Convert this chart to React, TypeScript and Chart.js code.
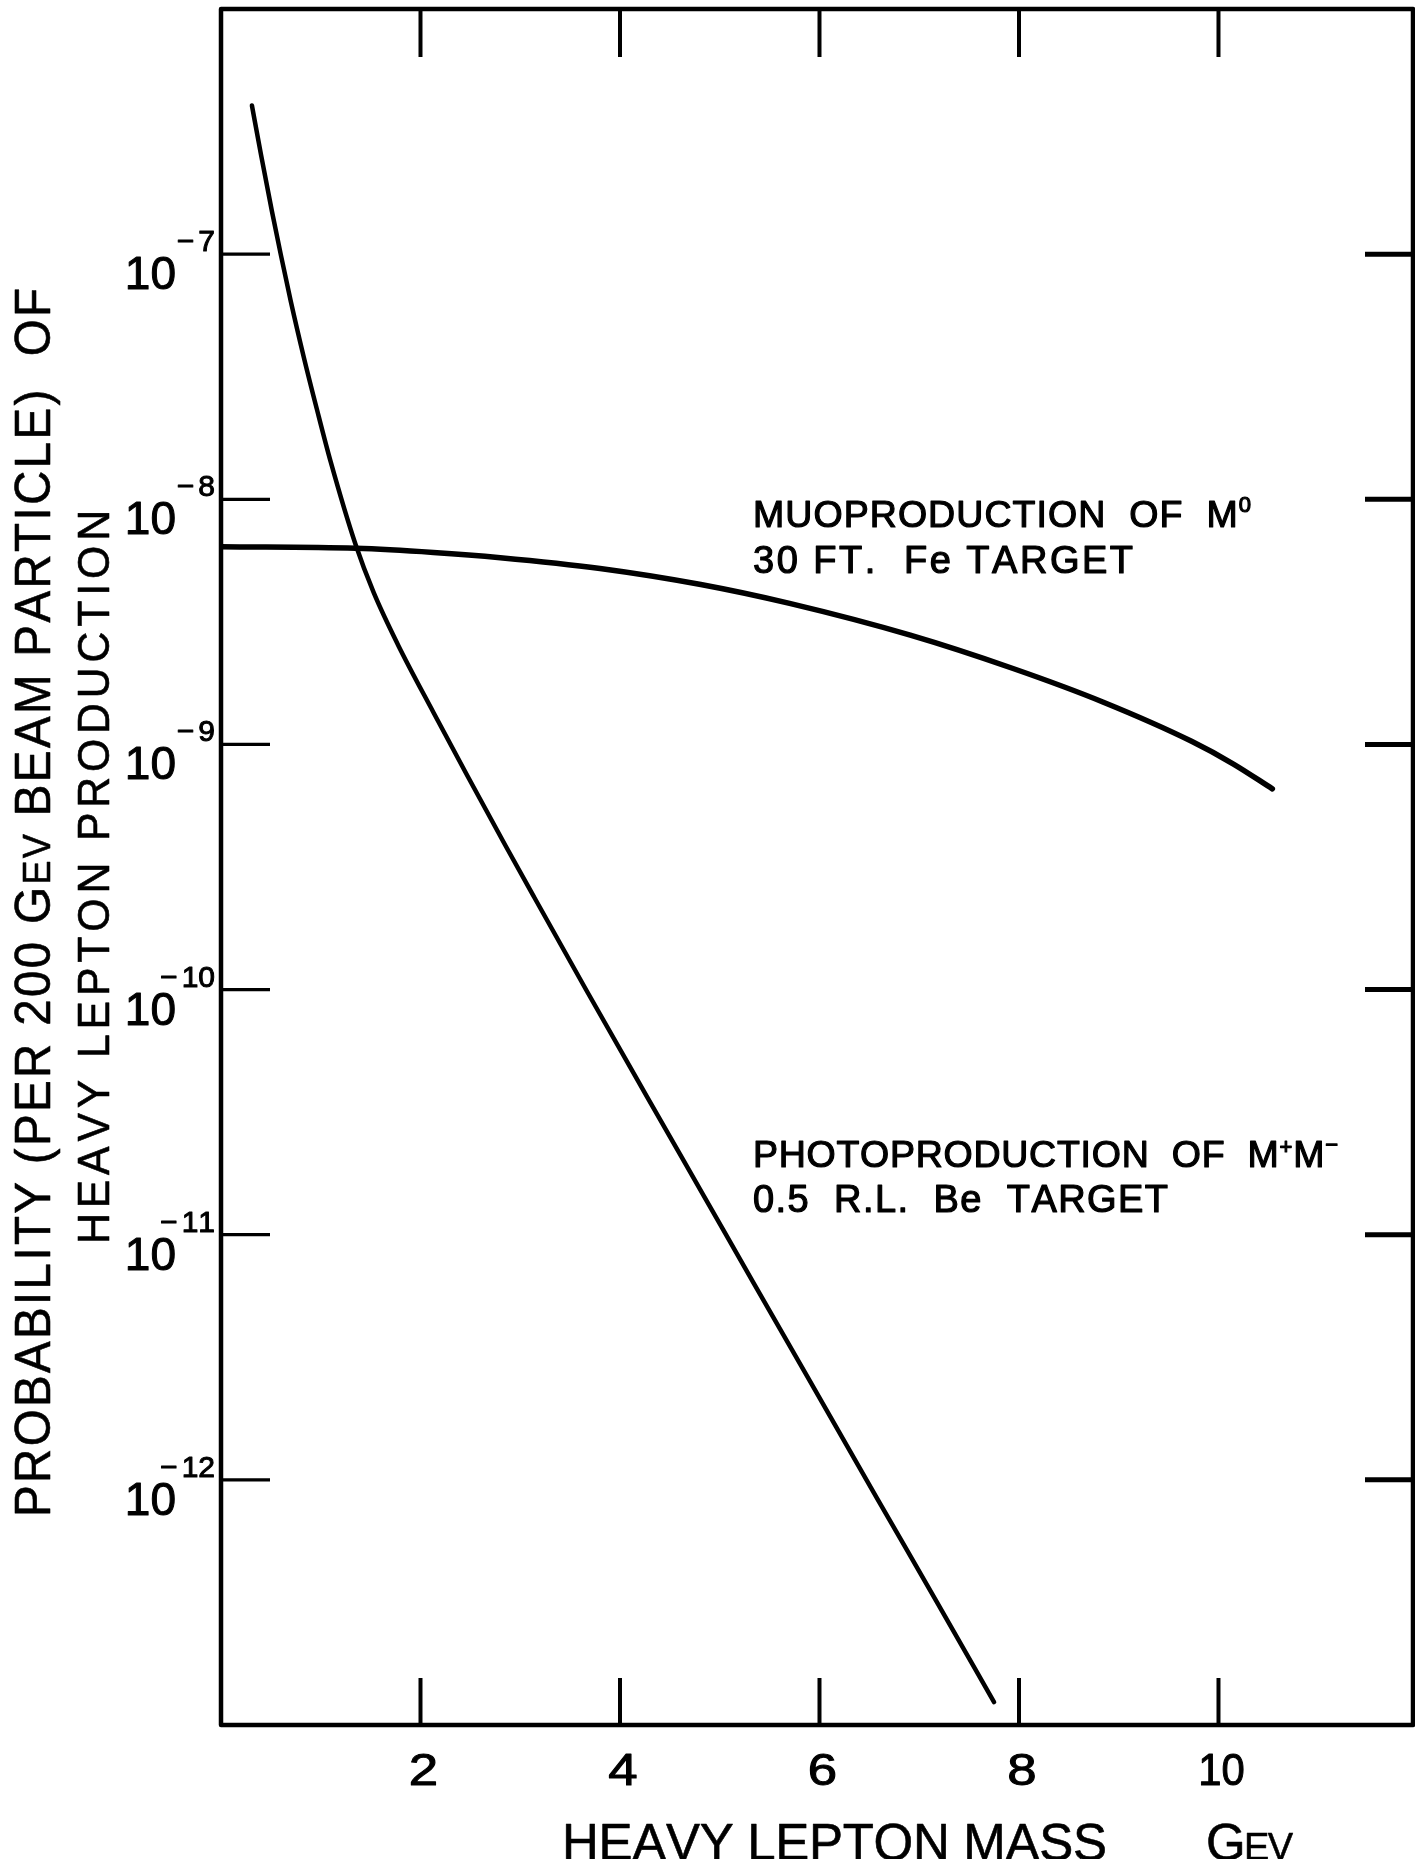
import React, { useEffect, useRef } from "react";
import { Chart, registerables } from "chart.js";

Chart.register(...registerables);

// ---- data ----
const photoMass = [0.31, 0.40, 0.51, 0.60, 0.70, 0.83, 0.96, 1.10, 1.35, 1.53, 1.77, 2.13, 2.47, 2.85, 3.14, 3.67, 4.27, 4.84, 5.34, 5.88, 6.58, 7.18, 7.75];
const photoProb = [4.04e-7, 2.56e-7, 1.50e-7, 9.93e-8, 6.41e-8, 3.80e-8, 2.34e-8, 1.42e-8, 6.52e-9, 4.17e-9, 2.57e-9, 1.35e-9, 7.45e-10, 3.88e-10, 2.38e-10, 9.82e-11, 3.66e-11, 1.44e-11, 6.35e-12, 2.63e-12, 8.37e-13, 3.16e-13, 1.24e-13];

const muoMass = [0, 1.35, 2.13, 2.80, 3.80, 4.81, 5.70, 6.91, 7.94, 8.84, 9.73, 10.15, 10.54];
const muoProb = [6.41e-9, 6.31e-9, 6.07e-9, 5.78e-9, 5.22e-9, 4.49e-9, 3.76e-9, 2.79e-9, 2.04e-9, 1.49e-9, 1.03e-9, 8.32e-10, 6.59e-10];

const xTickValues = [2, 4, 6, 8, 10];
const xTickLabels = ["2", "4", "6", "8", "10"];
const yTickExponents = [-7, -8, -9, -10, -11, -12];
const yTickExpLabels = ["−7", "−8", "−9", "−10", "−11", "−12"];

const xMin = 0;
const xMax = 11.95;
const yMin = 1e-13;
const yMax = 1e-6;

const FONT = '"Liberation Sans", Arial, sans-serif';

type Seg = { t: string; s: number; dy?: number };

function segWidth(ctx: CanvasRenderingContext2D, segs: Seg[]) {
  let w = 0;
  let n = 0;
  for (const sg of segs) {
    ctx.font = `${sg.s}px ${FONT}`;
    for (const ch of sg.t) {
      w += ctx.measureText(ch).width;
      n++;
    }
  }
  return { w, n };
}

// draws segments char by char starting at (0,0) in current transform, fitted to target width
function drawFit(ctx: CanvasRenderingContext2D, segs: Seg[], target: number, gs = 1, bold = 0) {
  const { w, n } = segWidth(ctx, segs);
  const extra = n > 1 ? (target - w * gs) / (n - 1) : 0;
  let cx = 0;
  for (const sg of segs) {
    ctx.font = `${sg.s}px ${FONT}`;
    for (const ch of sg.t) {
      const cw = ctx.measureText(ch).width;
      ctx.save();
      ctx.translate(cx, sg.dy || 0);
      ctx.scale(gs, 1);
      ctx.fillText(ch, 0, 0);
      if (bold > 0) {
        ctx.lineWidth = bold;
        ctx.strokeText(ch, 0, 0);
      }
      ctx.restore();
      cx += cw * gs + extra;
    }
  }
}

function textAt(ctx: CanvasRenderingContext2D, segs: Seg[], x: number, y: number, target: number, gs = 1, bold = 0) {
  ctx.save();
  ctx.translate(x, y);
  drawFit(ctx, segs, target, gs, bold);
  ctx.restore();
}

const decoPlugin = {
  id: "deco",
  afterDraw(chart: any) {
    const { ctx, chartArea: a, scales } = chart;
    const xs = scales.x;
    const ys = scales.y;
    ctx.save();
    ctx.strokeStyle = "#000";
    ctx.fillStyle = "#000";
    ctx.lineCap = "butt";
    ctx.lineJoin = "round";

    // frame
    ctx.lineWidth = 4.5;
    ctx.strokeRect(a.left, a.top, a.right - a.left, a.bottom - a.top);

    const line = (x1: number, y1: number, x2: number, y2: number, w: number) => {
      ctx.lineWidth = w;
      ctx.beginPath();
      ctx.moveTo(x1, y1);
      ctx.lineTo(x2, y2);
      ctx.stroke();
    };

    // x ticks (inward, top and bottom)
    for (const v of xTickValues) {
      const px = xs.getPixelForValue(v);
      line(px, a.top, px, a.top + 48, 4);
      line(px, a.bottom, px, a.bottom - 47, 4);
    }
    // y ticks (inward, left and right)
    for (const e of yTickExponents) {
      const py = ys.getPixelForValue(Math.pow(10, e));
      line(a.left, py, a.left + 49, py, 3.2);
      line(a.right - 48, py, a.right, py, 5);
    }

    // x tick labels
    ctx.textBaseline = "alphabetic";
    ctx.textAlign = "center";
    ctx.lineWidth = 1;
    xTickValues.forEach((v, i) => {
      const px = xs.getPixelForValue(v);
      const lab = xTickLabels[i];
      ctx.font = `44px ${FONT}`;
      ctx.save();
      ctx.translate(px + 3, a.bottom + 60);
      ctx.scale(lab.length > 1 ? 0.95 : 1.2, 1);
      ctx.fillText(lab, 0, 0);
      ctx.strokeText(lab, 0, 0);
      ctx.restore();
    });

    // y tick labels: 10 with superscript exponent
    yTickExponents.forEach((e, i) => {
      const py = ys.getPixelForValue(Math.pow(10, e));
      ctx.textAlign = "right";
      ctx.font = `46px ${FONT}`;
      ctx.lineWidth = 1;
      ctx.fillText("10", 176, py + 35);
      ctx.strokeText("10", 176, py + 35);
      ctx.font = `30px ${FONT}`;
      const lab = yTickExpLabels[i];
      const chars = Array.from(lab);
      let x = 215;
      for (let k = chars.length - 1; k >= 0; k--) {
        ctx.fillText(chars[k], x, py - 3);
        ctx.strokeText(chars[k], x, py - 3);
        const w = ctx.measureText(chars[k]).width;
        x -= w + (k === 1 ? 4 : 0);
      }
    });

    ctx.textAlign = "left";

    // curve annotations
    textAt(ctx, [{ t: "MUOPRODUCTION  OF  M", s: 37.5 }, { t: "0", s: 22, dy: -15 }], 753, 527, 498, 1, 1.2);
    textAt(ctx, [{ t: "30 FT.  Fe TARGET", s: 38 }], 753, 573, 380, 1, 1.2);
    textAt(
      ctx,
      [
        { t: "PHOTOPRODUCTION  OF  M", s: 37.5 },
        { t: "+", s: 22, dy: -13 },
        { t: "M", s: 37.5 },
        { t: "−", s: 22, dy: -15 },
      ],
      753,
      1167,
      585,
      1,
      1.2
    );
    textAt(ctx, [{ t: "0.5  R.L.  Be  TARGET", s: 38 }], 753, 1212, 415, 1, 1.2);

    // x axis title
    textAt(ctx, [{ t: "HEAVY LEPTON MASS", s: 51 }], 562, 1860, 545, 1, 0.6);
    textAt(ctx, [{ t: "G", s: 51 }, { t: "EV", s: 38 }], 1206, 1860, 87, 1, 0.6);

    // y axis title (two rotated lines)
    ctx.save();
    ctx.translate(50, 1517);
    ctx.rotate(-Math.PI / 2);
    drawFit(
      ctx,
      [
        { t: "PROBABILITY (PER 200 G", s: 50 },
        { t: "EV", s: 38 },
        { t: " BEAM PARTICLE)  OF", s: 50 },
      ],
      1229,
      0.95,
      0.6
    );
    ctx.restore();

    ctx.save();
    ctx.translate(109, 1244);
    ctx.rotate(-Math.PI / 2);
    drawFit(ctx, [{ t: "HEAVY LEPTON PRODUCTION", s: 45 }], 734, 0.95, 0.6);
    ctx.restore();

    ctx.restore();
  },
};

export default function App() {
  const ref = useRef<HTMLCanvasElement | null>(null);

  useEffect(() => {
    if (!ref.current) return;
    const chart = new Chart(ref.current, {
      type: "line",
      data: {
        datasets: [
          {
            label: "Photoproduction of M+M- (0.5 R.L. Be target)",
            data: photoMass.map((m, i) => ({ x: m, y: photoProb[i] })),
            borderColor: "#000",
            borderWidth: 4.5,
            pointRadius: 0,
            fill: false,
            cubicInterpolationMode: "monotone",
            borderCapStyle: "round",
            borderJoinStyle: "round",
          },
          {
            label: "Muoproduction of M0 (30 ft. Fe target)",
            data: muoMass.map((m, i) => ({ x: m, y: muoProb[i] })),
            borderColor: "#000",
            borderWidth: 5.5,
            pointRadius: 0,
            fill: false,
            cubicInterpolationMode: "monotone",
            borderCapStyle: "round",
            borderJoinStyle: "round",
          },
        ],
      },
      options: {
        responsive: false,
        animation: false,
        devicePixelRatio: 1,
        layout: { padding: { left: 221, right: 2, top: 9, bottom: 134 } },
        plugins: { legend: { display: false }, tooltip: { enabled: false } },
        scales: {
          x: { type: "linear", min: xMin, max: xMax, display: false },
          y: { type: "logarithmic", min: yMin, max: yMax, display: false },
        },
      },
      plugins: [decoPlugin],
    } as any);
    return () => chart.destroy();
  }, []);

  return (
    <div style={{ position: "absolute", left: 0, top: 0, width: 1415, height: 1859, background: "#fff" }}>
      <canvas ref={ref} width={1415} height={1859} style={{ display: "block" }} />
    </div>
  );
}
